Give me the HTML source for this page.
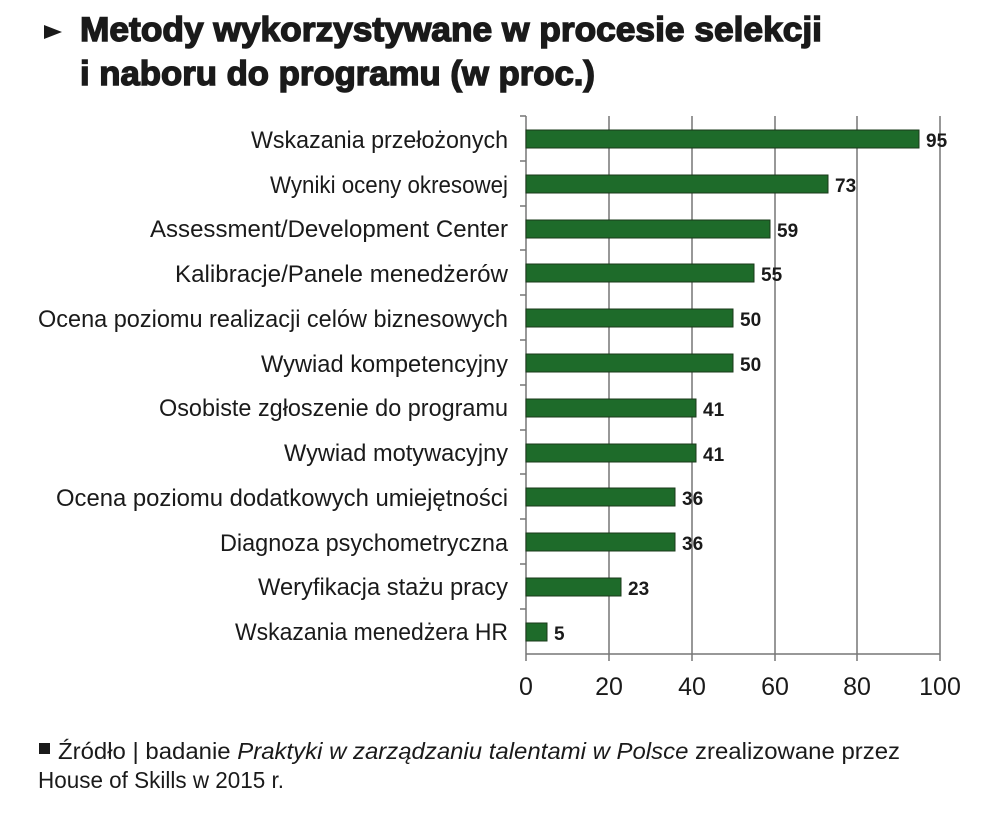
<!DOCTYPE html>
<html><head><meta charset="utf-8"><style>
body{margin:0;background:#fff}
svg{display:block}
</style></head><body>
<svg width="985" height="814" viewBox="0 0 985 814" xmlns="http://www.w3.org/2000/svg">
<rect width="985" height="814" fill="#fff"/>
<g font-family="Liberation Sans, DejaVu Sans, sans-serif" fill="#1a1a1a">
<polygon points="44,25 62,32 44,39" fill="#1a1a1a"/>
<text x="80" y="41" font-size="34" font-weight="bold" textLength="742" lengthAdjust="spacingAndGlyphs" stroke="#1a1a1a" stroke-width="1.4">Metody wykorzystywane w procesie selekcji</text>
<text x="80" y="85" font-size="34" font-weight="bold" textLength="515" lengthAdjust="spacingAndGlyphs" stroke="#1a1a1a" stroke-width="1.4">i naboru do programu (w proc.)</text>
</g>
<g stroke="#777" stroke-width="1.5">
<line x1="609" y1="116" x2="609" y2="661"/>
<line x1="692" y1="116" x2="692" y2="661"/>
<line x1="775" y1="116" x2="775" y2="661"/>
<line x1="857" y1="116" x2="857" y2="661"/>
<line x1="940" y1="116" x2="940" y2="661"/>
<line x1="526" y1="654" x2="940" y2="654"/>
<line x1="526" y1="116" x2="526" y2="661"/>
<path d="M520 116H526M520 161H526M520 206H526M520 250H526M520 295H526M520 340H526M520 385H526M520 430H526M520 474H526M520 519H526M520 564H526M520 609H526"/>
</g>
<g fill="#1e6b2a" stroke="#1a3a1a" stroke-width="1">
<rect x="526" y="130" width="393" height="18"/>
<rect x="526" y="175" width="302" height="18"/>
<rect x="526" y="220" width="244" height="18"/>
<rect x="526" y="264" width="228" height="18"/>
<rect x="526" y="309" width="207" height="18"/>
<rect x="526" y="354" width="207" height="18"/>
<rect x="526" y="399" width="170" height="18"/>
<rect x="526" y="444" width="170" height="18"/>
<rect x="526" y="488" width="149" height="18"/>
<rect x="526" y="533" width="149" height="18"/>
<rect x="526" y="578" width="95" height="18"/>
<rect x="526" y="623" width="21" height="18"/>
</g>
<g font-family="Liberation Sans Narrow, Liberation Sans, sans-serif" font-weight="bold" font-size="19" fill="#1a1a1a">
<text x="926" y="147">95</text>
<text x="835" y="192">73</text>
<text x="777" y="237">59</text>
<text x="761" y="281">55</text>
<text x="740" y="326">50</text>
<text x="740" y="371">50</text>
<text x="703" y="416">41</text>
<text x="703" y="461">41</text>
<text x="682" y="505">36</text>
<text x="682" y="550">36</text>
<text x="628" y="595">23</text>
<text x="554" y="640">5</text>
</g>
<g font-family="Liberation Sans Narrow, Liberation Sans, sans-serif" font-size="24" fill="#1a1a1a" text-anchor="end">
<text x="508" y="148" textLength="257" lengthAdjust="spacingAndGlyphs">Wskazania przełożonych</text>
<text x="508" y="193" textLength="238" lengthAdjust="spacingAndGlyphs">Wyniki oceny okresowej</text>
<text x="508" y="237" textLength="358" lengthAdjust="spacingAndGlyphs">Assessment/Development Center</text>
<text x="508" y="282" textLength="333" lengthAdjust="spacingAndGlyphs">Kalibracje/Panele menedżerów</text>
<text x="508" y="327" textLength="470" lengthAdjust="spacingAndGlyphs">Ocena poziomu realizacji celów biznesowych</text>
<text x="508" y="372" textLength="247" lengthAdjust="spacingAndGlyphs">Wywiad kompetencyjny</text>
<text x="508" y="416" textLength="349" lengthAdjust="spacingAndGlyphs">Osobiste zgłoszenie do programu</text>
<text x="508" y="461" textLength="224" lengthAdjust="spacingAndGlyphs">Wywiad motywacyjny</text>
<text x="508" y="506" textLength="452" lengthAdjust="spacingAndGlyphs">Ocena poziomu dodatkowych umiejętności</text>
<text x="508" y="551" textLength="288" lengthAdjust="spacingAndGlyphs">Diagnoza psychometryczna</text>
<text x="508" y="595" textLength="250" lengthAdjust="spacingAndGlyphs">Weryfikacja stażu pracy</text>
<text x="508" y="640" textLength="273" lengthAdjust="spacingAndGlyphs">Wskazania menedżera HR</text>
</g>
<g font-family="Liberation Sans, sans-serif" font-size="25" fill="#1a1a1a" text-anchor="middle">
<text x="526" y="695">0</text>
<text x="609" y="695">20</text>
<text x="692" y="695">40</text>
<text x="775" y="695">60</text>
<text x="857" y="695">80</text>
<text x="940" y="695">100</text>
</g>
<g font-family="Liberation Sans Narrow, Liberation Sans, sans-serif" font-size="23" fill="#1a1a1a">
<rect x="39" y="743" width="11" height="11"/>
<text x="58" y="759" textLength="842" lengthAdjust="spacingAndGlyphs">Źródło | badanie <tspan font-style="italic">Praktyki w zarządzaniu talentami w Polsce</tspan> zrealizowane przez</text>
<text x="38" y="788" textLength="246" lengthAdjust="spacingAndGlyphs">House of Skills w 2015 r.</text>
</g>
</svg>
</body></html>
